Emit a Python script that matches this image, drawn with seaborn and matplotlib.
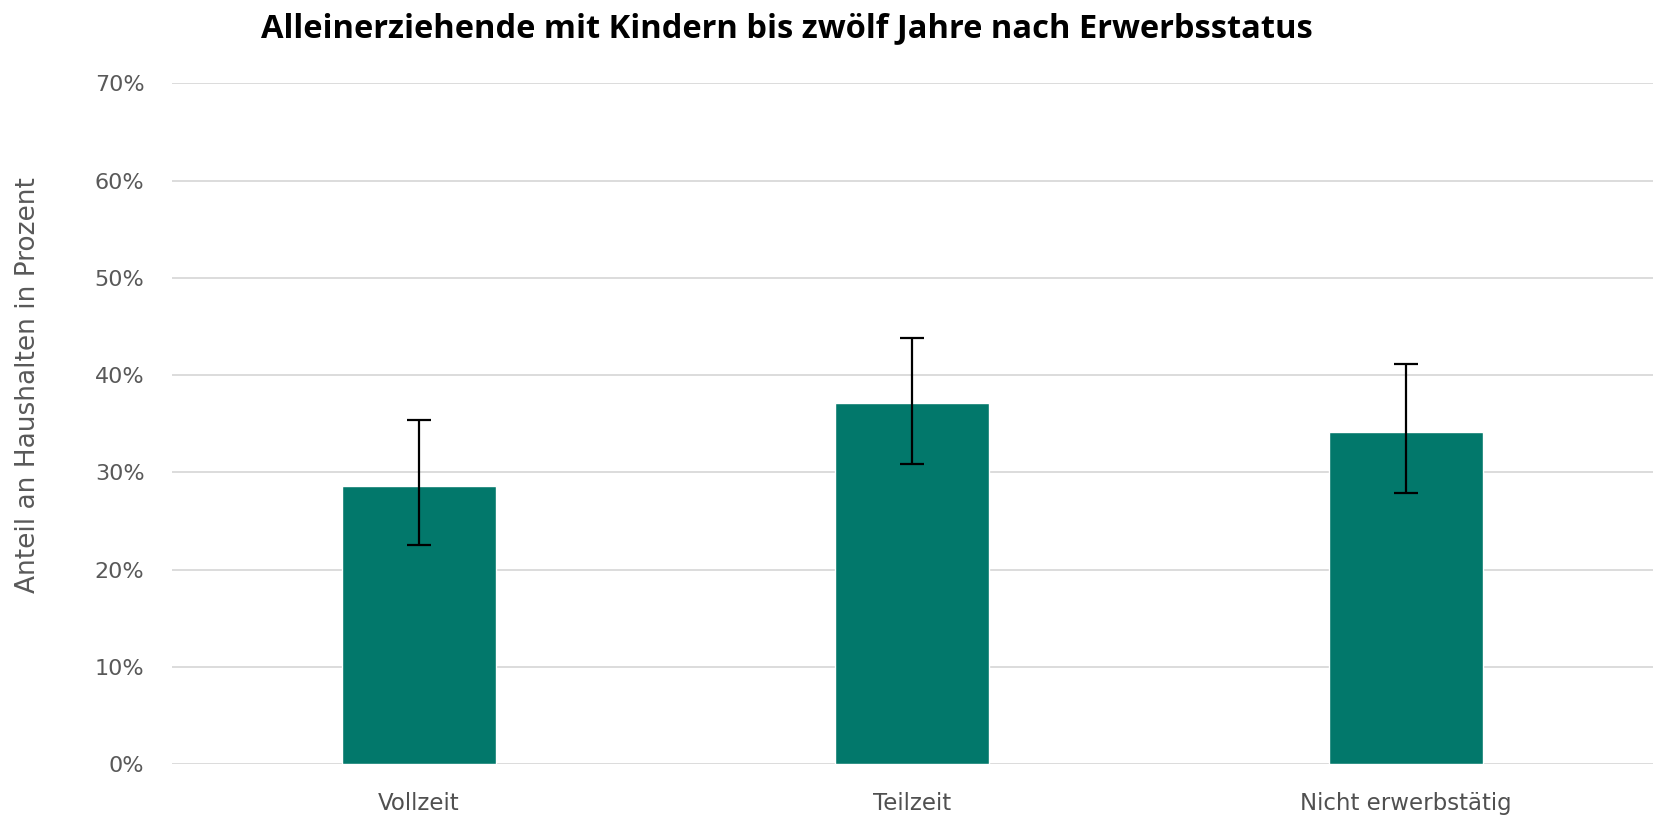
import matplotlib
matplotlib.use("Agg")
import matplotlib.pyplot as plt
import seaborn as sns
import pandas as pd
from matplotlib.ticker import FuncFormatter, MultipleLocator

categories = ["Vollzeit", "Teilzeit", "Nicht erwerbstätig"]
values = [28.6, 37.1, 34.2]
err_low = [22.5, 30.9, 27.9]
err_high = [35.4, 43.8, 41.1]

title = "Alleinerziehende mit Kindern bis zwölf Jahre nach Erwerbsstatus"
ylabel = "Anteil an Haushalten in Prozent"

sns.set_theme(style="white")
plt.rcParams['font.family'] = ['DejaVu Sans']

df = pd.DataFrame({"Status": categories, "Anteil": values})

fig = plt.figure(figsize=(16.56, 8.16), dpi=100)
ax = fig.add_axes([0.104, 0.0632, 0.894, 0.8348])

sns.barplot(data=df, x="Status", y="Anteil", color="#02786b", saturation=1,
            width=0.312, errorbar=None, ax=ax, zorder=2)

xs = [p.get_x() + p.get_width() / 2 for p in ax.patches]
yerr = [[v - lo for v, lo in zip(values, err_low)],
        [hi - v for v, hi in zip(values, err_high)]]
ax.errorbar(xs, values, yerr=yerr, fmt="none", ecolor="black", elinewidth=1.6,
            capsize=8.5, capthick=1.6, zorder=3)

ax.set_ylim(0, 70)
ax.set_xlim(-0.5, 2.5)
ax.yaxis.set_major_locator(MultipleLocator(10))
ax.yaxis.set_major_formatter(FuncFormatter(lambda v, _: f"{int(round(v))}%"))
ax.grid(axis="y", color="#d9d9d9", linewidth=1.3, zorder=0)
ax.set_axisbelow(True)
for s in ax.spines.values():
    s.set_visible(False)
ax.tick_params(axis="y", length=0, pad=20, labelsize=16, labelcolor="#595959")
ax.tick_params(axis="x", length=0, pad=20, labelsize=16.5, labelcolor="#505050")
ax.set_xlabel("")
ax.set_ylabel("")

fig.text(0.0172, 0.528, ylabel, rotation=90, ha="center", va="center",
         fontsize=19, color="#595959")
fig.text(0.475, 0.965, title, ha="center", va="center", fontsize=23.5,
         fontweight="bold", color="black", family=["Open Sans", "DejaVu Sans"])

fig.savefig("out.png", dpi=100)
